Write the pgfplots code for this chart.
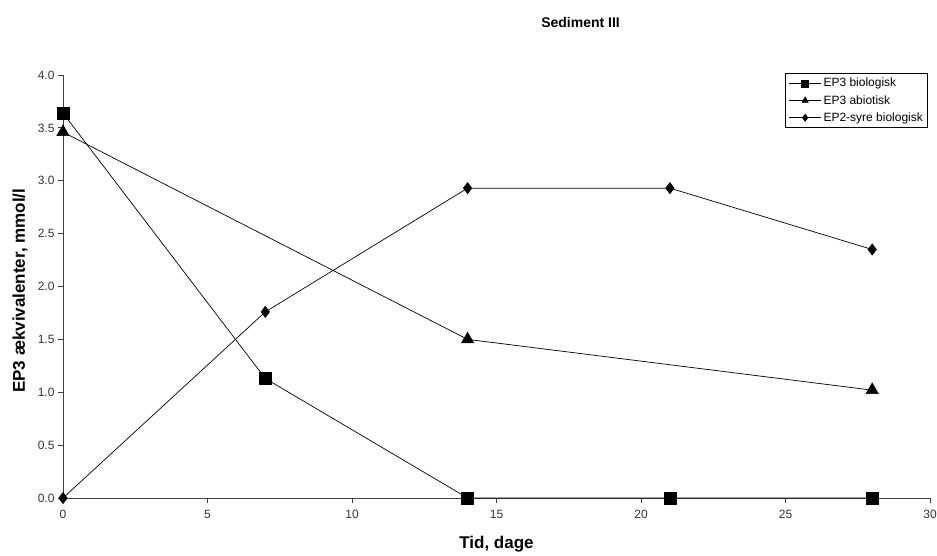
\documentclass[border=0pt]{standalone}
\usepackage{fontspec}
\setmainfont{Liberation Sans}
\usepackage{pgfplots}
\pgfplotsset{compat=1.18}
\begin{document}
\begin{tikzpicture}
\useasboundingbox (-63pt,-57pt) rectangle (874pt,498pt);
\begin{axis}[
  at={(0,0)}, anchor=south west,
  scale only axis, width=867pt, height=423pt,
  xmin=0, xmax=30, ymin=0, ymax=4,
  axis lines=left,
  axis line style={-, line width=0.8pt, black!75},
  xtick={0,5,...,30}, ytick={0,0.5,...,4},
  tick align=outside, major tick length=5pt,
  tick style={black!75, line width=0.8pt},
  /pgf/number format/assume math mode=true,
  yticklabel style={/pgf/number format/.cd, fixed, fixed zerofill, precision=1},
  ticklabel style={font=\fontsize{12}{14}\selectfont, black!80},
  xticklabel style={yshift=-4pt},
  xlabel={Tid, dage},
  ylabel={EP3 ækvivalenter, mmol/l},
  label style={font=\bfseries\fontsize{17}{20}\selectfont},
  xlabel style={at={(axis description cs:0.5,0)}, anchor=center, yshift=-46pt},
  ylabel style={at={(axis description cs:0,0.49)}, anchor=center, yshift=43pt},
  title={Sediment III},
  title style={font=\bfseries\fontsize{14}{16}\selectfont, at={(axis description cs:0.597,1)}, anchor=center, yshift=47pt},
  legend style={at={(axis description cs:0.998,1.005)}, anchor=north east, draw=black, line width=0.8pt,
    font=\fontsize{12}{14}\selectfont, row sep=3pt, inner sep=3pt, cells={anchor=west}},
  legend image code/.code={\draw[mark repeat=2,mark phase=2,#1] plot coordinates {(0pt,0pt) (16pt,0pt) (32pt,0pt)};},
  legend image post style={mark size=3.5pt},
  every axis plot/.append style={black, line width=0.7pt},
  clip=false,
]
\addplot[mark=square*, mark size=6pt] coordinates {(0,3.64) (7,1.13) (14,0) (21,0) (28,0)};
\addlegendentry{EP3 biologisk}
\addplot[mark=triangle*, mark size=7pt] coordinates {(0,3.46) (14,1.50) (28,1.02)};
\addlegendentry{EP3 abiotisk}
\addplot[mark=diamond*, mark size=5.5pt] coordinates {(0,0) (7,1.76) (14,2.93) (21,2.93) (28,2.35)};
\addlegendentry{EP2-syre biologisk}
\end{axis}
\end{tikzpicture}
\end{document}
